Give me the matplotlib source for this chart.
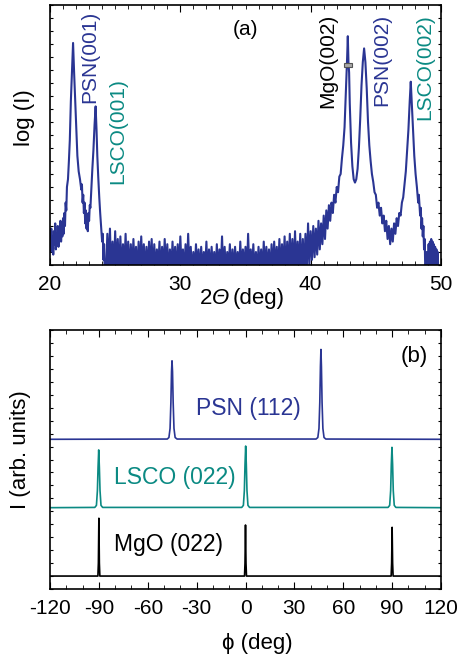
import numpy as np
import matplotlib.pyplot as plt
from matplotlib.ticker import MultipleLocator
from matplotlib.patches import Rectangle

plt.rcParams['font.family'] = ['Liberation Sans', 'DejaVu Sans']
plt.rcParams['axes.unicode_minus'] = False

NAVY = '#2a3593'
TEAL = '#0b8a83'

# ---- panel (a): 2theta scan, log(I) in arbitrary units ----
# left peaks PSN(001) / LSCO(001)
left_tt = [20.0, 20.05, 20.1, 20.15, 20.2, 20.25, 20.3, 20.35, 20.4, 20.45, 20.5, 20.55,
           20.6, 20.65, 20.7, 20.75, 20.8, 20.85, 20.9, 20.95, 21.0, 21.05, 21.1, 21.15,
           21.2, 21.25, 21.3, 21.38, 21.45, 21.52, 21.6, 21.68, 21.77, 21.85, 21.95, 22.03,
           22.1, 22.2, 22.3, 22.4, 22.45, 22.5, 22.55, 22.6, 22.65, 22.7, 22.75, 22.8,
           22.85, 22.9, 22.95, 23.0, 23.05, 23.1, 23.18, 23.25, 23.33, 23.42, 23.5, 23.57,
           23.63, 23.7, 23.78, 23.85, 23.92, 24.0, 24.05, 24.1, 24.15, 24.2]
left_I = [12, 5, 14, 7, 11, 4, 13, 8, 16, 6, 12, 9,
          15, 7, 13, 10, 17, 9, 14, 11, 18, 12, 20, 15,
          24, 21, 30, 33, 40, 48, 63, 74, 85.4, 74, 61, 50,
          42, 36, 33, 29, 31, 24, 27, 20, 24, 16, 21, 14,
          19, 13, 20, 17, 23, 22, 30, 37, 44, 54, 61, 52,
          42, 34, 26, 20, 15, 9, 12, 2, 8, -3]

# noisy background, scan step 0.1 deg starting at 24.3
base_start = 24.3
base_I = [-3, 12, -2, 14, -4, 9, -3, 13, -2, 10, -3, 11, -4, 8, -2, 12, -3, 9,
          -4, 8, -3, 10, -2, 7, -4, 9, -3, 11, -2, 8, -4, 7, -3, 9, -2, 10, -4, 8,
          -3, 6, -2, 9, -4, 7, -3, 10, -2, 8, -4, 6, -3, 9, -2, 7, -4, 8, -3, 11,
          -2, 6, -4, 8, -3, 12, -2, 7, -4, 5, -3, 8, -2, 6, -4, 7, -3, 5, -2, 9,
          -4, 6, -3, 7, -2, 5, -4, 8, -3, 6, -2, 11, -4, 7, -3, 5, -2, 8, -4, 6,
          -3, 7, -2, 5, -4, 9, -3, 6, -2, 7, -4, 12, -3, 6, -2, 8, -4, 5, -3, 7,
          -2, 6, -4, 9, -3, 7, -2, 6, -4, 8,
          -3, 9, -2, 7, -4, 10, -3, 8, -2, 11, -4, 9, -3, 12, -2, 10, -4, 13,
          -3, 9, -2, 12, -4, 10, -3]

# right peaks MgO(002) / PSN(002) / LSCO(002)
right_tt = [39.6, 39.7, 39.8, 39.9, 40.0, 40.1, 40.2, 40.3, 40.4, 40.5, 40.6, 40.7,
            40.8, 40.9, 41.0, 41.1, 41.2, 41.3, 41.4, 41.5, 41.6, 41.7, 41.8, 41.9,
            42.0, 42.1, 42.2, 42.3, 42.4, 42.5, 42.6, 42.7, 42.8, 42.85, 42.9, 42.95,
            43.0, 43.1, 43.2, 43.3, 43.4, 43.5, 43.6, 43.7, 43.8, 43.9, 44.0, 44.1,
            44.2, 44.3, 44.4, 44.5, 44.6, 44.7, 44.8, 44.9, 45.0, 45.1, 45.2, 45.3,
            45.4, 45.5, 45.6, 45.7, 45.8, 45.9, 46.0, 46.1, 46.2, 46.3, 46.4, 46.5,
            46.6, 46.7, 46.8, 46.9, 47.0, 47.1, 47.2, 47.3, 47.4, 47.5, 47.6, 47.68,
            47.76, 47.85, 47.95, 48.05, 48.15, 48.25, 48.3, 48.4, 48.45, 48.5, 48.55, 48.6,
            48.65, 48.7, 48.75, 48.8, 48.9, 49.0, 49.05, 49.1, 49.15, 49.2, 49.25, 49.3,
            49.35, 49.4, 49.45, 49.5, 49.55, 49.6, 49.65, 49.7, 49.75, 49.8]
right_I = [12, -2, 16, 0, 13, 2, 15, 3, 14, 4, 17, 6,
           16, 8, 19, 10, 21, 14, 23, 17, 24, 20, 27, 24,
           30, 28, 34, 35, 41, 46, 53, 66, 80, 88, 78, 74,
           62, 47, 38, 33, 31.7, 33, 37, 45, 56, 69, 78, 83.3,
           78, 68, 55, 46, 40, 35, 32, 28, 27, 22, 24, 19,
           22, 16, 19, 13, 17, 10, 15, 8, 14, 9, 16, 12,
           18, 15, 20, 19, 24, 26, 31, 36, 44, 52, 63, 70.5,
           62, 52, 42, 35, 30, 24, 27, 19, 22, 14, 18, 11,
           15, 6, 10, -4, 5, -3, 8, -2, 9, -3, 10, -2,
           9, -3, 8, -2, 7, -3, 6, -2, 5, -4]

labels_a = ['PSN(001)', 'LSCO(001)', 'MgO(002)', 'PSN(002)', 'LSCO(002)']
labels_a_x = [23.07, 25.22, 41.34, 45.48, 48.78]
labels_a_y = [80.2, 51.5, 78.7, 78.8, 76.0]
labels_a_c = [NAVY, TEAL, 'black', NAVY, TEAL]

# ---- panel (b): phi scans ----
psn_phi = [-120, -48, -47, -46.3, -45.8, -45.4, -45.1, -44.8, -44.4, -43.9, -43.2, -42,
           43.3, 44.4, 45.1, 45.6, 46.0, 46.3, 46.6, 47.0, 47.5, 48.2, 49.3, 120]
psn_I = [57.8, 57.9, 58.5, 62, 72, 84, 88.1, 84, 72, 62, 58.5, 57.9,
         57.9, 58.5, 62, 72, 86, 92.5, 86, 72, 62, 58.5, 57.9, 57.8]

lsco_phi = [-120, -92.5, -91.5, -90.9, -90.5, -90.1, -89.7, -89.3, -88.7, -87.7,
            -2.3, -1.3, -0.7, -0.3, 0.1, 0.5, 0.9, 1.5, 2.5,
            87.5, 88.5, 89.1, 89.5, 89.9, 90.3, 90.7, 91.3, 92.3, 120]
lsco_I = [31.4, 31.5, 32.3, 38, 47, 53.7, 47, 38, 32.3, 31.5,
          31.5, 32.3, 38, 48, 55.2, 48, 38, 32.3, 31.5,
          31.5, 32.3, 38, 48, 54.7, 48, 38, 32.3, 31.5, 31.4]

mgo_phi = [-120, -90.6, -90.3, -90.0, -89.7, -89.4,
           -0.6, -0.3, 0.0, 0.3, 0.6,
           89.4, 89.7, 90.0, 90.3, 90.6, 120]
mgo_I = [5.0, 5.0, 10, 27.3, 10, 5.0,
         5.0, 10, 24.7, 10, 5.0,
         5.0, 10, 23.8, 10, 5.0, 5.0]

labels_b = ['PSN (112)', 'LSCO (022)', 'MgO (022)']
labels_b_x = [1.5, -43.3, -47.0]
labels_b_y = [69.5, 43.0, 17.0]
labels_b_c = [NAVY, TEAL, 'black']

fig = plt.figure(figsize=(4.58, 6.57), dpi=100)
ax1 = fig.add_axes([50 / 458, 1 - 265 / 657, 391 / 458, 260 / 657])
ax2 = fig.add_axes([50 / 458, 1 - 589 / 657, 391 / 458, 259 / 657])

base_tt = base_start + 0.1 * np.arange(len(base_I))
tt = np.concatenate([left_tt, base_tt, right_tt])
logI = np.concatenate([left_I, base_I, right_I])
ax1.plot(tt, logI, color=NAVY, lw=1.5)
ax1.add_patch(Rectangle((42.55, 76.2), 0.62, 1.6, facecolor='#a8a8a8',
                        edgecolor='#555555', lw=0.8, zorder=3))
for s, x, y, c in zip(labels_a, labels_a_x, labels_a_y, labels_a_c):
    ax1.text(x, y, s, color=c, fontsize=15, rotation=90, ha='center', va='center')
ax1.text(34.97, 90.4, '(a)', fontsize=15, ha='center', va='center')
ax1.set_xlim(20, 50)
ax1.set_ylim(0, 100)
ax1.xaxis.set_major_locator(MultipleLocator(10))
ax1.xaxis.set_minor_locator(MultipleLocator(1))
ax1.yaxis.set_major_locator(MultipleLocator(5))
ax1.set_yticklabels([])
ax1.tick_params(axis='x', which='both', direction='in', top=True, labelsize=15, pad=7)
ax1.tick_params(axis='x', which='major', length=5)
ax1.tick_params(axis='x', which='minor', length=3)
ax1.tick_params(axis='y', which='both', direction='in', right=True, length=2)
# x label "2Θ (deg)" with italic Theta
ax1.text(0.414, -0.127, '2', fontsize=16, ha='right', va='center', transform=ax1.transAxes)
ax1.text(0.435, -0.127, 'Θ', fontsize=16, style='italic', ha='center', va='center',
         transform=ax1.transAxes)
ax1.text(0.466, -0.127, '(deg)', fontsize=16, ha='left', va='center', transform=ax1.transAxes)
ax1.set_ylabel('log (I)', fontsize=16)
ax1.yaxis.set_label_coords(-0.038, 0.565)

ax2.plot(psn_phi, psn_I, color=NAVY, lw=1.2)
ax2.plot(lsco_phi, lsco_I, color=TEAL, lw=1.2)
ax2.plot(mgo_phi, mgo_I, color='black', lw=1.2)
for s, x, y, c in zip(labels_b, labels_b_x, labels_b_y, labels_b_c):
    ax2.text(x, y, s, color=c, fontsize=16.5, ha='center', va='center')
ax2.text(103.4, 89.7, '(b)', fontsize=16, ha='center', va='center')
ax2.set_xlim(-120, 120)
ax2.set_ylim(0, 100)
ax2.xaxis.set_major_locator(MultipleLocator(30))
ax2.xaxis.set_minor_locator(MultipleLocator(10))
ax2.yaxis.set_major_locator(MultipleLocator(5))
ax2.set_yticklabels([])
ax2.tick_params(axis='x', which='both', direction='in', top=True, labelsize=15, pad=7)
ax2.tick_params(axis='x', which='major', length=5)
ax2.tick_params(axis='x', which='minor', length=3)
ax2.tick_params(axis='y', which='both', direction='in', right=True, length=2)
ax2.set_xlabel('ϕ (deg)', fontsize=16)
ax2.xaxis.set_label_coords(0.529, -0.17)
ax2.set_ylabel('I (arb. units)', fontsize=16)
ax2.yaxis.set_label_coords(-0.049, 0.537)

for ax in (ax1, ax2):
    for sp in ax.spines.values():
        sp.set_linewidth(1.2)

fig.savefig('out.png', dpi=100)
